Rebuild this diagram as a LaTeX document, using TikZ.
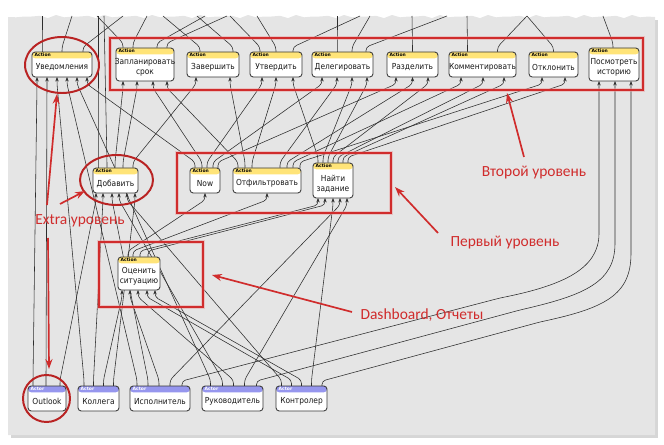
\documentclass[tikz,border=0pt]{standalone}
\usepackage{fontspec}
\setmainfont{DejaVu Sans}
\newfontfamily\nodefont{DejaVu Sans Condensed}
\newfontfamily\annfont{Carlito}
\usetikzlibrary{arrows.meta,calc}
\pgfdeclarelayer{back}
\pgfdeclarelayer{wires}
\pgfsetlayers{back,wires,main}
\definecolor{panel}{RGB}{229,229,229}
\definecolor{edgec}{RGB}{45,45,45}
\definecolor{boxc}{RGB}{55,55,55}
\definecolor{acty}{RGB}{255,228,120}
\definecolor{actb}{RGB}{150,150,238}
\definecolor{ann}{RGB}{208,44,44}
\definecolor{annd}{RGB}{185,35,35}
\tikzset{
 nbox/.style={draw=boxc, line width=0.6pt, rounded corners=2.3pt, fill=white, inner sep=0pt, outer sep=0pt},
 actbox/.style={nbox, path picture={\fill[acty] ([yshift=2pt]path picture bounding box.north west) rectangle ([yshift=-4.5pt]path picture bounding box.north east);}},
 actorbox/.style={nbox, path picture={\fill[actb] ([yshift=2pt]path picture bounding box.north west) rectangle ([yshift=-4.5pt]path picture bounding box.north east);}},
 hdr/.style={font=\fontsize{3.2}{3.6}\selectfont\bfseries, inner sep=0.2pt, anchor=north west},
 ntext/.style={font=\nodefont\fontsize{5.9}{7.2}\selectfont, align=center, inner sep=0pt, text=black!90},
 conn/.style={draw=edgec, line width=0.4pt, rounded corners=2.5pt, -{Stealth[length=3.2pt,width=2.4pt]}},
 connplain/.style={draw=edgec, line width=0.4pt, rounded corners=2.5pt},
 redbox/.style={draw=ann, line width=1.1pt},
 redglow/.style={draw=ann!45, line width=2.8pt, opacity=0.5},
 redell/.style={draw=annd, line width=1.4pt},
 annarrow/.style={draw=ann, line width=1.2pt, -{Stealth[length=7pt,width=5pt]}},
 anntext/.style={font=\annfont\fontsize{11}{13}\selectfont, text=ann, inner sep=0pt},
}
\newcommand\actn[6]{%
 \node[actbox, minimum width=#4*0.025cm, minimum height=#5*0.025cm] (#1) at (#2,#3) {};
 \node[hdr] (#1-h) at ([xshift=1.5pt,yshift=-0.3pt]#1.north west) {Action};
 \node[ntext] (#1-t) at ($(#1.center)+(0,3)$) {#6};}
\newcommand\actorn[6]{%
 \node[actorbox, minimum width=#4*0.025cm, minimum height=#5*0.025cm] (#1) at (#2,#3) {};
 \node[hdr, text=white] (#1-h) at ([xshift=1.5pt,yshift=-0.3pt]#1.north west) {Actor};
 \node[ntext] (#1-t) at ($(#1.center)+(0,3)$) {#6};}
\newcommand\wire[4]{\draw[conn] ($(#1.north)+(#2,0)$) -- ++(0,-6) -- ($(#3.south)+(#4,7)$) -- ($(#3.south)+(#4,0)$);}
\newcommand\offtop[3]{\draw[connplain] ($(#1.north)+(#2,0)$) -- ++(0,-5) -- (#3,16);}
\begin{document}
\begin{tikzpicture}[x=0.025cm,y=-0.025cm]
\useasboundingbox (0,0) rectangle (664,445);
\begin{pgfonlayer}{back}
 \fill[black!16] (11,20) rectangle (658,438);
 \fill[panel] (8,435) -- (8,17) \foreach \i in {1,...,80} { -- ({8+8*\i},{15+1.5*mod(\i,2)+0.8*mod(\i,3)}) } -- (655,17) -- (655,435) -- cycle;
\end{pgfonlayer}
% upper level
\actn{uv}{62}{64.5}{60}{25}{Уведомления}
\actn{zs}{145}{64.5}{58}{33}{Запланировать\\срок}
\actn{zv}{213}{64.5}{52}{25}{Завершить}
\actn{ut}{276}{64.5}{52}{25}{Утвердить}
\actn{dl}{342.5}{64.5}{61}{25}{Делегировать}
\actn{rz}{412.5}{64.5}{51}{25}{Разделить}
\actn{km}{482.5}{64.5}{67}{25}{Комментировать}
\actn{ot}{553.5}{64.5}{49}{25}{Отклонить}
\actn{ps}{614}{64.5}{50}{33}{Посмотреть\\историю}
% middle level
\actn{db}{115.5}{180.5}{45}{25}{Добавить}
\actn{nw}{205}{180.5}{30}{25}{Now}
\actn{of}{267}{180.5}{68}{25}{Отфильтровать}
\actn{nz}{333}{180.5}{40}{35}{Найти\\задание}
\actn{oc}{139}{273.5}{42}{33}{Оценить\\ситуацию}
% actors
\actorn{ol}{47}{398.5}{38}{25}{Outlook}
\actorn{kl}{98.5}{398.5}{41}{25}{Коллега}
\actorn{is}{160}{398.5}{60}{25}{Исполнитель}
\actorn{rk}{232.5}{398.5}{61}{25}{Руководитель}
\actorn{kn}{301.5}{398.5}{51}{25}{Контролер}
\begin{pgfonlayer}{wires}
 % off the top
 \offtop{uv}{-20}{42} \offtop{uv}{0}{72} \offtop{uv}{21}{123}
 \offtop{zs}{-22}{97} \offtop{zs}{-12}{147} \offtop{zs}{12}{205} \offtop{zs}{22}{227}
 \offtop{zv}{-13}{163} \offtop{zv}{20}{197}
 \offtop{ut}{-16}{230} \offtop{ut}{0}{257} \offtop{ut}{17}{360}
 \offtop{dl}{-5.5}{337} \offtop{dl}{9.5}{370} \offtop{dl}{23.5}{447}
 \offtop{rz}{0}{412}
 \offtop{km}{-15}{467} \offtop{km}{15}{527}
 \offtop{ot}{0}{527}
 \offtop{ps}{-1}{603}
 \offtop{db}{-17.5}{98} \offtop{db}{-8.5}{104}
 % actors
 \wire{ol}{-14}{uv}{-25} \wire{ol}{-1}{uv}{-15} \wire{ol}{13}{db}{-19.5}
 \wire{kl}{-14.5}{uv}{-5} \wire{kl}{-5}{db}{-12.5} \wire{kl}{5}{oc}{-17} \wire{kl}{15}{db}{19.5}
 \wire{is}{-23}{uv}{5} \wire{is}{-12}{db}{-3.5} \wire{is}{-1}{oc}{-9} \wire{is}{10}{nz}{7}
 \wire{rk}{-22}{uv}{15} \wire{rk}{-10}{db}{3.5} \wire{rk}{1}{oc}{-1} \wire{rk}{12}{nz}{14}
 \wire{kn}{-20}{db}{11.5} \wire{kn}{-10}{oc}{8} \wire{kn}{0}{oc}{16} \wire{kn}{10}{nz}{0}
 \draw[conn] ($(is.north)+(22,0)$) -- ++(0,-5) -- (500,298) .. controls (565,285) and (599,268) .. (599,230) -- ($(ps.south)+(-15,0)$);
 \draw[conn] ($(rk.north)+(24,0)$) -- ++(0,-5) -- (520,310) .. controls (585,295) and (615,282) .. (615,240) -- ($(ps.south)+(1,0)$);
 \draw[conn] ($(kn.north)+(20.5,0)$) -- ++(0,-5) -- (540,322) .. controls (605,308) and (631,295) .. (631,250) -- ($(ps.south)+(17,0)$);
 % middle to upper
 \wire{db}{-0.5}{zs}{-22} \wire{db}{7.5}{zs}{-8} \wire{db}{17.5}{zv}{-17}
 \wire{nw}{-10}{uv}{25} \wire{nw}{-3}{zs}{8} \wire{nw}{2}{ut}{-14} \wire{nw}{8}{dl}{-20.5} \wire{nw}{13}{rz}{-16.5}
 \wire{of}{-29}{zs}{22} \wire{of}{-22}{zv}{17} \wire{of}{-15}{ut}{0} \wire{of}{13}{dl}{-5.5} \wire{of}{20}{rz}{0} \wire{of}{26}{km}{-21.5} \wire{of}{33}{ot}{-11.5}
 \wire{nz}{-15}{ut}{17} \wire{nz}{-10}{dl}{9.5} \wire{nz}{-5}{dl}{24.5} \wire{nz}{0}{rz}{15.5} \wire{nz}{5}{km}{0.5} \wire{nz}{10}{km}{21.5} \wire{nz}{15}{ot}{11.5}
 \wire{oc}{-11}{nw}{0} \wire{oc}{-6}{of}{0} \wire{oc}{1}{nz}{-15} \wire{oc}{9}{nz}{-8}
\end{pgfonlayer}
% red marks
\foreach \st in {redglow,redbox}{
 \draw[\st] (110,38) rectangle (643,90);
 \draw[\st] (177,153) rectangle (391,213);
 \draw[\st] (99,242) rectangle (203,307);
}
\draw[redell] (62,65) ellipse [x radius=37, y radius=28];
\draw[redell] (116.5,180) ellipse [x radius=36.5, y radius=25];
\draw[redell] (46.5,398.5) ellipse [x radius=23.5, y radius=23.5];
\node[anntext] (t2) at (534,173) {Второй уровень};
\node[anntext] (t1) at (505,243) {Первый уровень};
\node[anntext] (td) at (422,315) {Dashboard, Отчеты};
\node[anntext] (te) at (80,221) {Extra уровень};
\coordinate (a2) at (507,93);
\coordinate (a1) at (395,187);
\coordinate (ad) at (212,275);
\coordinate (ae1) at (85,191);
\coordinate (ae2) at (57,94);
\coordinate (ae3) at (49,369);
\draw[annarrow] (524,157) -- (a2);
\draw[annarrow] (438,233) -- (a1);
\draw[annarrow] (352,312) -- (ad);
\draw[annarrow] (60,204) -- (ae1);
\draw[annarrow] (47,205) -- (ae2);
\draw[annarrow] (48,238) -- (ae3);
\end{tikzpicture}
\end{document}
